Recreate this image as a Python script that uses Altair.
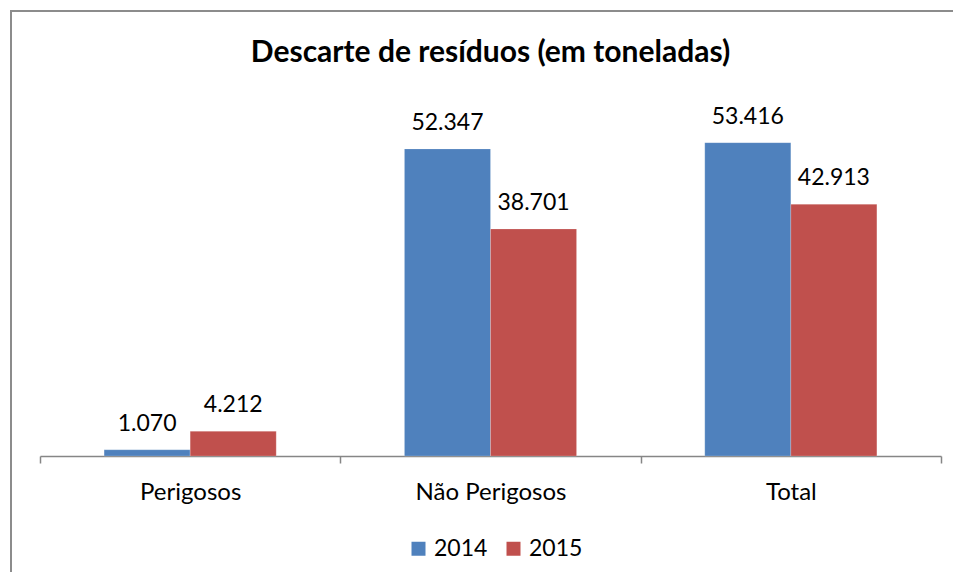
import altair as alt
import pandas as pd

categories = ["Perigosos", "Não Perigosos", "Total"]
years = ["2014", "2015"]
values_2014 = [1070, 52347, 53416]
values_2015 = [4212, 38701, 42913]
colors = ["#4F81BD", "#C0504D"]
title_text = "Descarte de resíduos (em toneladas)"

rows = []
for c, a, b in zip(categories, values_2014, values_2015):
    rows.append({"cat": c, "year": years[0], "value": a})
    rows.append({"cat": c, "year": years[1], "value": b})
df = pd.DataFrame(rows)

FONT = "Lato"
W, H = 901, 352

x_enc = alt.X(
    "cat:N", sort=categories, title=None,
    scale=alt.Scale(paddingInner=0, paddingOuter=0),
    axis=alt.Axis(
        tickBand="extent", labelAngle=0, domainColor="#868686", tickColor="#868686",
        domainWidth=1.5, tickWidth=1.5, tickSize=7, labelFontSize=24, labelFont=FONT,
        labelColor="#000000", labelPadding=17, grid=False,
    ),
)
xoff = alt.XOffset("year:N", sort=years, scale=alt.Scale(paddingInner=0, paddingOuter=0.745))
y_enc = alt.Y("value:Q", scale=alt.Scale(domain=[0, 60000], nice=False), axis=None)

base = alt.Chart(df)

bars = base.mark_bar(stroke="white", strokeWidth=0.5, strokeOpacity=0.4).encode(
    x=x_enc, xOffset=xoff, y=y_enc,
    color=alt.Color(
        "year:N", sort=years, scale=alt.Scale(domain=years, range=colors),
        legend=alt.Legend(
            title=None, orient="none", legendX=367, legendY=433, direction="horizontal",
            symbolType="square", symbolSize=196, symbolStrokeWidth=0, labelFontSize=23,
            labelFont=FONT, labelColor="#000000", labelOffset=4, columnPadding=14, padding=0,
        ),
    ),
)

labels = base.transform_calculate(
    lbl="replace(format(datum.value, ','), ',', '.')"
).mark_text(font=FONT, fontSize=23, color="#000000", baseline="alphabetic", dy=-19).encode(
    x=x_enc, xOffset=xoff, y=y_enc, text="lbl:N"
)

title = alt.Chart(pd.DataFrame({"t": [title_text]})).mark_text(
    font=FONT, fontSize=30, fontWeight="bold", color="#000000", baseline="alphabetic", align="center"
).encode(x=alt.value(W / 2), y=alt.value(-42), text="t:N")

border = alt.Chart(pd.DataFrame({"a": [0]})).mark_rect(
    fill=None, stroke="#8c8c8c", strokeWidth=2
).encode(x=alt.value(-29), x2=alt.value(1200), y=alt.value(-93), y2=alt.value(1000))

chart = alt.layer(border, bars, labels, title).properties(
    width=W, height=H,
    autosize=alt.AutoSizeParams(type="none"),
    padding={"left": 32, "top": 96, "right": 12, "bottom": 116},
    background="white",
).configure_view(stroke=None, strokeWidth=0)

chart.save("out.html", embed_options={"renderer": "svg", "actions": False})
